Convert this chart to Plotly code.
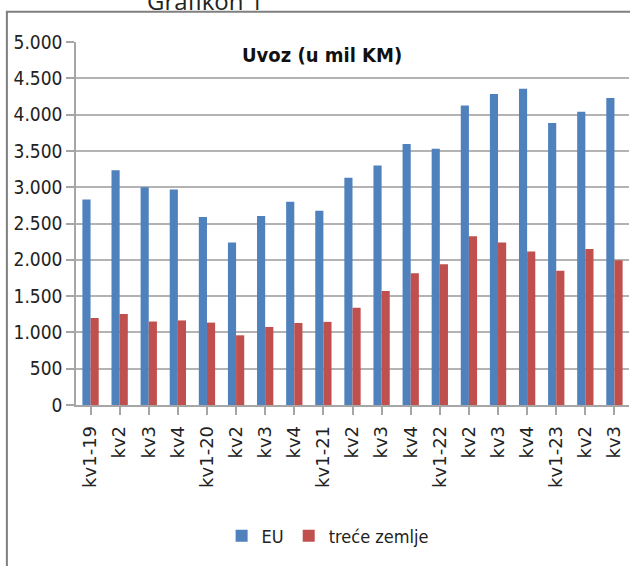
import plotly.graph_objects as go

categories = ["kv1-19", "kv2", "kv3", "kv4", "kv1-20", "kv2", "kv3", "kv4",
              "kv1-21", "kv2", "kv3", "kv4", "kv1-22", "kv2", "kv3", "kv4",
              "kv1-23", "kv2", "kv3"]
eu = [2830, 3235, 3000, 2970, 2590, 2240, 2605, 2800, 2675, 3130, 3300,
      3595, 3530, 4125, 4285, 4355, 3885, 4040, 4230]
trece = [1200, 1255, 1150, 1165, 1135, 960, 1075, 1130, 1145, 1340, 1570,
         1815, 1940, 2325, 2240, 2115, 1850, 2150, 1995]
yticks = [0, 500, 1000, 1500, 2000, 2500, 3000, 3500, 4000, 4500, 5000]
ytick_text = ["0", "500", "1.000", "1.500", "2.000", "2.500", "3.000",
              "3.500", "4.000", "4.500", "5.000"]

x = list(range(len(categories)))
narrow = "DejaVu Sans Condensed, Liberation Sans Narrow, sans-serif"

fig = go.Figure()
fig.add_trace(go.Bar(x=x, y=eu, name="EU", marker_color="#4f81bd",
                     marker_line_width=0))
fig.add_trace(go.Bar(x=x, y=trece, name="treće zemlje", marker_color="#c0504d",
                     marker_line_width=0))

fig.update_layout(
    width=630, height=566,
    margin=dict(l=76, r=1, t=42, b=161),
    paper_bgcolor="white", plot_bgcolor="white",
    barmode="group", bargap=0.44, bargroupgap=0,
    showlegend=True,
    legend=dict(orientation="h", x=0.455, xanchor="center", y=-0.31,
                yanchor="top", font=dict(family=narrow, size=18, color="#222"),
                itemwidth=30, traceorder="normal"),
    font=dict(family=narrow, color="#222"),
)
fig.update_xaxes(
    tickmode="array", tickvals=x, ticktext=categories,
    tickangle=-90, tickfont=dict(family="DejaVu Sans", size=18, color="#222"),
    range=[-0.5, len(categories) - 0.5],
    showline=True, linecolor="#a6a6a6", linewidth=1.5,
    ticks="outside", ticklen=8, tickcolor="#a6a6a6", tickwidth=1.5,
    tickson="boundaries", ticklabelstandoff=4,
    showgrid=False,
)
fig.update_yaxes(
    range=[0, 5000], tickmode="array", tickvals=yticks, ticktext=ytick_text,
    tickfont=dict(family=narrow, size=19, color="#222"),
    showline=True, linecolor="#a6a6a6", linewidth=1.5,
    ticks="outside", ticklen=8, tickcolor="#a6a6a6", tickwidth=1.5,
    showgrid=True, gridcolor="#b3b3b3", gridwidth=1.5,
    zeroline=False,
)
fig.add_annotation(text="<b>Uvoz (u mil KM)</b>", xref="paper", yref="paper",
                   x=0.445, y=0.965, xanchor="center", yanchor="middle",
                   showarrow=False,
                   font=dict(family=narrow, size=20, color="#111"))
fig.add_annotation(text="Grafikon 1", xref="paper", yref="paper",
                   x=0.233, y=1.063, xanchor="center", yanchor="bottom",
                   showarrow=False,
                   font=dict(family="Open Sans", size=24, color="#222"))
fig.add_shape(type="rect", xref="paper", yref="paper",
              x0=-0.125, x1=1.1, y0=-0.6, y1=1.083,
              line=dict(color="#7f7f7f", width=2), fillcolor="rgba(0,0,0,0)",
              layer="above")

fig.write_html("out.html",
               config={"displayModeBar": False},
               post_script="document.body.style.margin='0';"
                           "document.body.style.overflow='hidden';")
